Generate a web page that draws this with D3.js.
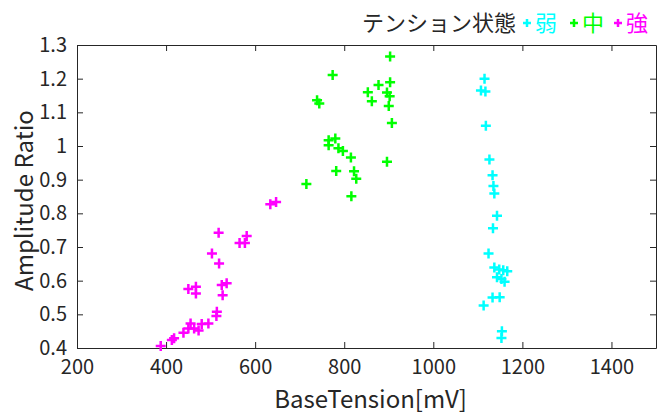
<html>
  <head>
    <script src="https://d3js.org/d3.v7.min.js"></script>
    <style>
      body { margin: 0; background: #fff; }
      text { font-family: "Noto Sans CJK JP", "Noto Sans", sans-serif; fill: #262626; }
    </style>
  </head>
  <body>
    <div id="vis"></div>
  </body>
  <script>
    // legend / series names
    var groups = ["弱", "中", "強"]
    var colors = ["#00ffff", "#00ff00", "#ff00ff"]

    // [BaseTension mV, Amplitude Ratio]
    var weak = [
      [1115, 1.200], [1107, 1.165], [1117, 1.162], [1118, 1.060], [1126, 0.960],
      [1133, 0.913], [1135, 0.881], [1137, 0.859], [1143, 0.793], [1134, 0.756],
      [1124, 0.681], [1137, 0.639], [1148, 0.633], [1157, 0.631], [1166, 0.628],
      [1143, 0.610], [1153, 0.605], [1160, 0.597], [1133, 0.550], [1149, 0.551],
      [1113, 0.526], [1154, 0.450], [1153, 0.430]
    ]
    var mid = [
      [903, 1.266], [774, 1.211], [877, 1.181], [903, 1.189], [853, 1.160],
      [896, 1.159], [902, 1.148], [862, 1.133], [739, 1.136], [744, 1.126],
      [900, 1.119], [907, 1.068], [765, 1.017], [780, 1.022], [765, 1.002],
      [787, 0.993], [797, 0.985], [815, 0.966], [896, 0.953], [782, 0.926],
      [822, 0.925], [827, 0.903], [715, 0.887], [816, 0.851]
    ]
    var strong = [
      [388, 0.406], [413, 0.424], [418, 0.429], [439, 0.445], [455, 0.473],
      [480, 0.471], [495, 0.473], [450, 0.458], [463, 0.458], [473, 0.452],
      [514, 0.508], [513, 0.495], [527, 0.557], [525, 0.587], [536, 0.592],
      [450, 0.575], [467, 0.582], [467, 0.562], [634, 0.827], [647, 0.834],
      [518, 0.742], [581, 0.733], [565, 0.712], [577, 0.712], [503, 0.681],
      [519, 0.651]
    ]
    var series = [weak, mid, strong]

    var xTicks = [200, 400, 600, 800, 1000, 1200, 1400]
    var yTicks = [0.4, 0.5, 0.6, 0.7, 0.8, 0.9, 1, 1.1, 1.2, 1.3]

    var W = 662, H = 414
    var margin = {top: 45, right: 6, bottom: 66, left: 77}
    var width = W - margin.left - margin.right
    var height = H - margin.top - margin.bottom

    var svg = d3.select("#vis")
      .append("svg")
      .attr("width", W)
      .attr("height", H)

    var g = svg.append("g")
      .attr("transform", "translate(" + margin.left + "," + margin.top + ")")

    var x = d3.scaleLinear().domain([200, 1500]).range([0, width])
    var y = d3.scaleLinear().domain([0.4, 1.3]).range([height, 0])

    var tickLen = 6

    // axes (MATLAB style: ticks inside, box on)
    var axBottom = g.append("g")
      .attr("transform", "translate(0," + height + ")")
      .call(d3.axisBottom(x).tickValues(xTicks).tickSizeInner(-tickLen).tickSizeOuter(0).tickPadding(12)
        .tickFormat(d3.format("d")))
    var axLeft = g.append("g")
      .call(d3.axisLeft(y).tickValues(yTicks).tickSizeInner(-tickLen).tickSizeOuter(0).tickPadding(10)
        .tickFormat(d3.format("~g")))
    var axTop = g.append("g")
      .call(d3.axisTop(x).tickValues(xTicks).tickSizeInner(-tickLen).tickSizeOuter(0).tickFormat(""))
    var axRight = g.append("g")
      .attr("transform", "translate(" + width + ",0)")
      .call(d3.axisRight(y).tickValues(yTicks).tickSizeInner(-tickLen).tickSizeOuter(0).tickFormat(""))

    ;[axBottom, axLeft, axTop, axRight].forEach(function(a) {
      a.selectAll("path, line").attr("stroke", "#262626").attr("stroke-width", 1)
      a.selectAll("text")
        .style("font-size", "20px")
        .style("font-family", '"Noto Sans CJK JP", sans-serif')
        .attr("fill", "#262626")
    })

    g.append("text")
      .text("BaseTension[mV]")
      .attr("x", width / 2 + 4)
      .attr("y", height + 60)
      .attr("text-anchor", "middle")
      .style("font-size", "24px")

    g.append("text")
      .text("Amplitude Ratio")
      .attr("transform", "translate(-44," + (height / 2 + 4) + ") rotate(-90)")
      .attr("text-anchor", "middle")
      .style("font-size", "24px")

    var plus = "M-5,0H5M0,-5V5"

    series.forEach(function(pts, i) {
      g.append("g").selectAll("path")
        .data(pts)
        .enter().append("path")
        .attr("d", plus)
        .attr("transform", function(d) { return "translate(" + x(d[0]) + "," + y(d[1]) + ")" })
        .attr("stroke", colors[i])
        .attr("stroke-width", 2.5)
        .attr("fill", "none")
    })

    // legend
    var lg = svg.append("g").attr("transform", "translate(0,23)")
    lg.append("text")
      .text("テンション状態")
      .attr("x", 516)
      .attr("text-anchor", "end")
      .attr("dy", "0.35em")
      .style("font-size", "22px")

    var legX = [527, 574, 618]
    groups.forEach(function(name, i) {
      lg.append("path")
        .attr("d", "M-4,0H4M0,-4V4")
        .attr("transform", "translate(" + legX[i] + ",0)")
        .attr("stroke", colors[i])
        .attr("stroke-width", 2.5)
      lg.append("text")
        .text(name)
        .attr("x", legX[i] + 8)
        .attr("dy", "0.35em")
        .style("font-size", "22px")
        .style("fill", colors[i])
    })
  </script>
</html>
